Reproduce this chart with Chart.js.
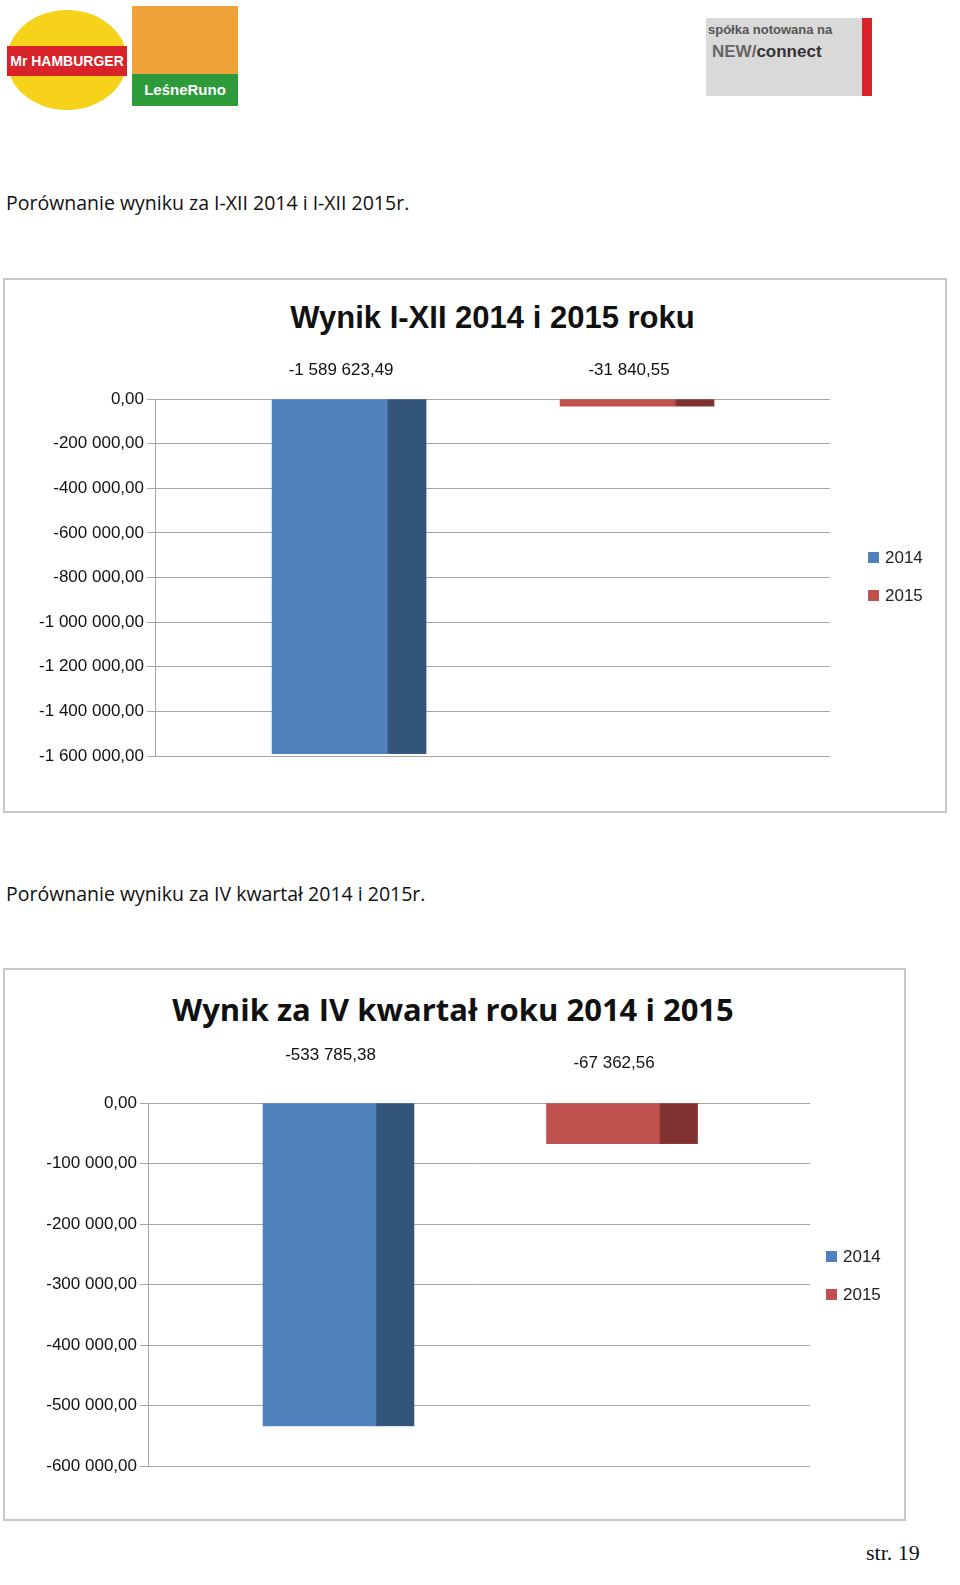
<!DOCTYPE html>
<html><head><meta charset="utf-8">
<script src="https://cdn.jsdelivr.net/npm/chart.js@4"></script>
<style>
body{margin:0;width:960px;height:1585px;position:relative;background:#fff;font-family:"Open Sans",sans-serif;overflow:hidden}
.abs{position:absolute}
.box{position:absolute;border:2px solid #c8c8c8;box-sizing:border-box}
.lg{position:absolute;font-family:"Liberation Sans",sans-serif;font-size:17px;color:#222}
.lg span{display:inline-block;width:11px;height:11px;margin-right:6px}
</style></head><body>
<div class="abs" style="left:7px;top:10px;width:120px;height:100px;border-radius:50%;background:#f7d21b"></div>
<div class="abs" style="left:7px;top:46px;width:120px;height:30px;background:#d8232a;color:#fff;font:bold 14px 'Liberation Sans';text-align:center;line-height:30px">Mr HAMBURGER</div>
<div class="abs" style="left:132px;top:6px;width:106px;height:100px;background:#f0a23a"></div>
<div class="abs" style="left:132px;top:74px;width:106px;height:32px;background:#2e9b3a;color:#fff;font:bold 15px 'Liberation Sans';text-align:center;line-height:32px">LeśneRuno</div>
<div class="abs" style="left:706px;top:18px;width:166px;height:78px;background:#d9d9d9"></div>
<div class="abs" style="left:708px;top:22px;font:bold 13px 'Liberation Sans';color:#555">spółka notowana na</div>
<div class="abs" style="left:712px;top:42px;font:bold 17px 'Liberation Sans';color:#666">NEW/<span style="color:#333">connect</span></div>
<div class="abs" style="left:862px;top:18px;width:10px;height:78px;background:#d8232a"></div>
<div class="abs" style="left:6px;top:189px;font-size:19.5px;color:#111">Porównanie wyniku za I-XII 2014 i I-XII 2015r.</div>
<div class="abs" style="left:6px;top:880px;font-size:19.5px;color:#111">Porównanie wyniku za IV kwartał 2014 i 2015r.</div>
<div class="abs" style="left:866px;top:1540px;font:22px 'Liberation Serif';color:#111">str. 19</div>

<div class="box" style="left:3px;top:278px;width:944px;height:535px"></div>
<div class="abs" style="left:155px;top:300px;width:675px;text-align:center;font:bold 31px 'Liberation Sans';color:#111;white-space:nowrap">Wynik I-XII 2014 i 2015 roku</div>
<canvas id="c1" class="abs" style="left:3px;top:278px;width:943px;height:534px"></canvas>
<div class="lg" style="left:868px;top:548px"><span style="background:#4F81BD"></span>2014</div>
<div class="lg" style="left:868px;top:586px"><span style="background:#C0504D"></span>2015</div>

<div class="box" style="left:3px;top:968px;width:903px;height:553px"></div>
<div class="abs" style="left:148px;top:988px;width:610px;text-align:center;font:bold 31px 'Open Sans';color:#111;white-space:nowrap">Wynik za IV kwartał roku 2014 i 2015</div>
<canvas id="c2" class="abs" style="left:3px;top:968px;width:902px;height:552px"></canvas>
<div class="lg" style="left:826px;top:1247px"><span style="background:#4F81BD"></span>2014</div>
<div class="lg" style="left:826px;top:1285px"><span style="background:#C0504D"></span>2015</div>

<script>
const categories=["2014","2015"];
const year1Values=[-1589623.49,-31840.55];
const year1Labels=["-1 589 623,49","-31 840,55"];
const q4Values=[-533785.38,-67362.56];
const q4Labels=["-533 785,38","-67 362,56"];
const front=["#4F81BD","#C0504D"], side=["#34557A","#7F3230"];
function fmt(v){const s=Math.abs(v).toFixed(0).replace(/\B(?=(\d{3})+(?!\d))/g," ");return (v<0?"-":"")+s+",00";}
function make(id,vals,labels,step,min,axisW,padTop,padBottom,padRight,lblOff,thick,xmin,xmax){
 const sideAndLabels={id:'s',afterDatasetsDraw(ch){const c=ch.ctx;
  ch.data.datasets.forEach((ds,di)=>{ch.getDatasetMeta(di).data.forEach((b,i)=>{
   const w=b.width,l=b.x+w/2-w*0.25;c.fillStyle=side[di];c.fillRect(l,Math.min(b.y,b.base),b.x+w/2-l,Math.abs(b.base-b.y));
   c.fillStyle='#111';c.font='17px "Liberation Sans"';c.textAlign='center';c.fillText(labels[di],b.x-8,ch.chartArea.top+lblOff[di]);});});}};
 new Chart(document.getElementById(id),{type:'bar',
  data:{datasets:categories.map((cat,i)=>({label:cat,data:[{x:i,y:vals[i]}],backgroundColor:front[i],barThickness:thick}))},
  options:{responsive:false,animation:false,devicePixelRatio:1,
   layout:{padding:{top:padTop,bottom:padBottom,right:padRight,left:0}},
   plugins:{legend:{display:false},tooltip:{enabled:false}},
   datasets:{bar:{grouped:false}},
   scales:{x:{type:'linear',display:false,min:xmin,max:xmax,offset:false},
    y:{min:min,max:0,afterFit(a){a.width=axisW;},ticks:{stepSize:step,color:'#111',font:{family:'Liberation Sans',size:17},callback:v=>fmt(v)},
     grid:{color:'#a6a6a6',tickLength:8},border:{color:'#a6a6a6'}}}},
  plugins:[sideAndLabels]});
}
const c1=document.getElementById('c1');c1.width=943;c1.height=534;
const c2=document.getElementById('c2');c2.width=902;c2.height=552;
make('c1',year1Values,year1Labels,200000,-1600000,152,121,56,116,[-24,-24],154,-0.674,1.67);
make('c2',q4Values,q4Labels,100000,-600000,145,135,54,95,[-43,-35],151,-0.672,1.663);
</script></body></html>
